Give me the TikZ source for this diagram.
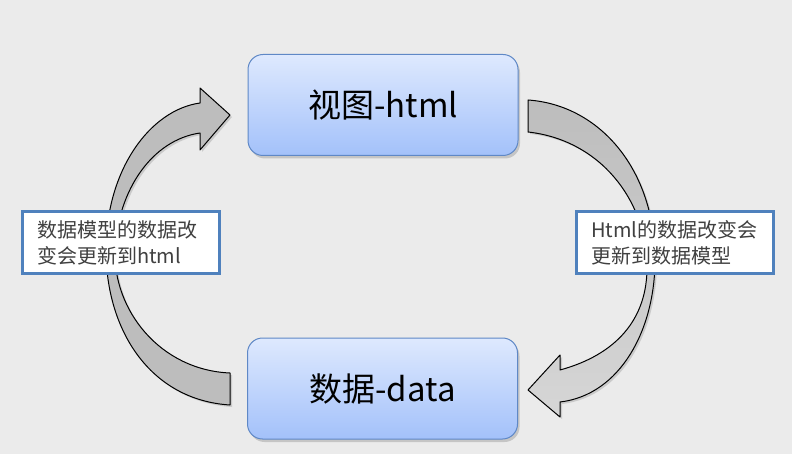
\documentclass[tikz,border=0pt]{standalone}
\usepackage{fontspec}
\newfontfamily\cjk{Noto Sans CJK SC}
\usetikzlibrary{shadows}
\definecolor{bgc}{HTML}{EBEBEB}
\definecolor{boxtop}{HTML}{DEE9FE}
\definecolor{boxbot}{HTML}{A3C1FA}
\definecolor{boxline}{HTML}{5F88C6}
\definecolor{lblline}{HTML}{4F81BD}
\definecolor{lbltext}{HTML}{404040}
\definecolor{arrfill}{HTML}{BDBDBD}
\definecolor{arrlight}{HTML}{D6D6D6}
\tikzset{
  mainbox/.style={draw=boxline, line width=1pt, rounded corners=15pt,
    top color=boxtop, bottom color=boxbot, minimum width=270pt, minimum height=101pt,
    inner sep=0pt, font=\cjk\fontsize{33}{38}\selectfont, text=black,
    drop shadow={opacity=0.35, shadow xshift=2pt, shadow yshift=-3pt}},
  lblbox/.style={draw=lblline, line width=3pt, fill=white, text width=167pt,
    inner xsep=15pt, inner ysep=0pt, minimum height=62pt, align=left,
    font=\cjk\fontsize{20}{26}\selectfont, text=lbltext},
  bigarrow/.style={draw=black, line width=1pt, line join=round,
    drop shadow={opacity=0.3, shadow xshift=2pt, shadow yshift=-2pt}}
}
\begin{document}
\begin{tikzpicture}[x=1pt,y=-1pt]
\fill[bgc] (0,0) rectangle (792,454);
\useasboundingbox (0,0) rectangle (792,454);
% boxes
\node[mainbox] (view) at (383,105) {视图-html};
\node[mainbox] (data) at (382.5,388.5) {数据-data};
% left arrow (up)
\draw[bigarrow, fill=arrfill]
  (230,405) .. controls (150,400) and (106,330) .. (106,250)
  .. controls (106,170) and (150,110) .. (200,103)
  -- (200,88) -- (230,115) -- (200,150) -- (200,133)
  .. controls (152,140) and (118,190) .. (115,250)
  .. controls (113,310) and (160,370) .. (230,373) -- cycle;
% right arrow (down)
\draw[bigarrow, top color=arrfill, bottom color=arrlight]
  (528,100) .. controls (600,105) and (655,170) .. (655,260)
  .. controls (655,330) and (620,395) .. (560,402)
  -- (560,417) -- (528,390) -- (560,355) -- (560,370)
  .. controls (615,355) and (648,320) .. (647,265)
  .. controls (646,200) and (600,140) .. (528,132) -- cycle;
% labels
\node[lblbox] (lbl1) at (120.5,242.5) {数据模型的数据改\\变会更新到html};
\node[lblbox] (lbl2) at (674.5,242.5) {Html的数据改变会\\更新到数据模型};
\end{tikzpicture}
\end{document}
